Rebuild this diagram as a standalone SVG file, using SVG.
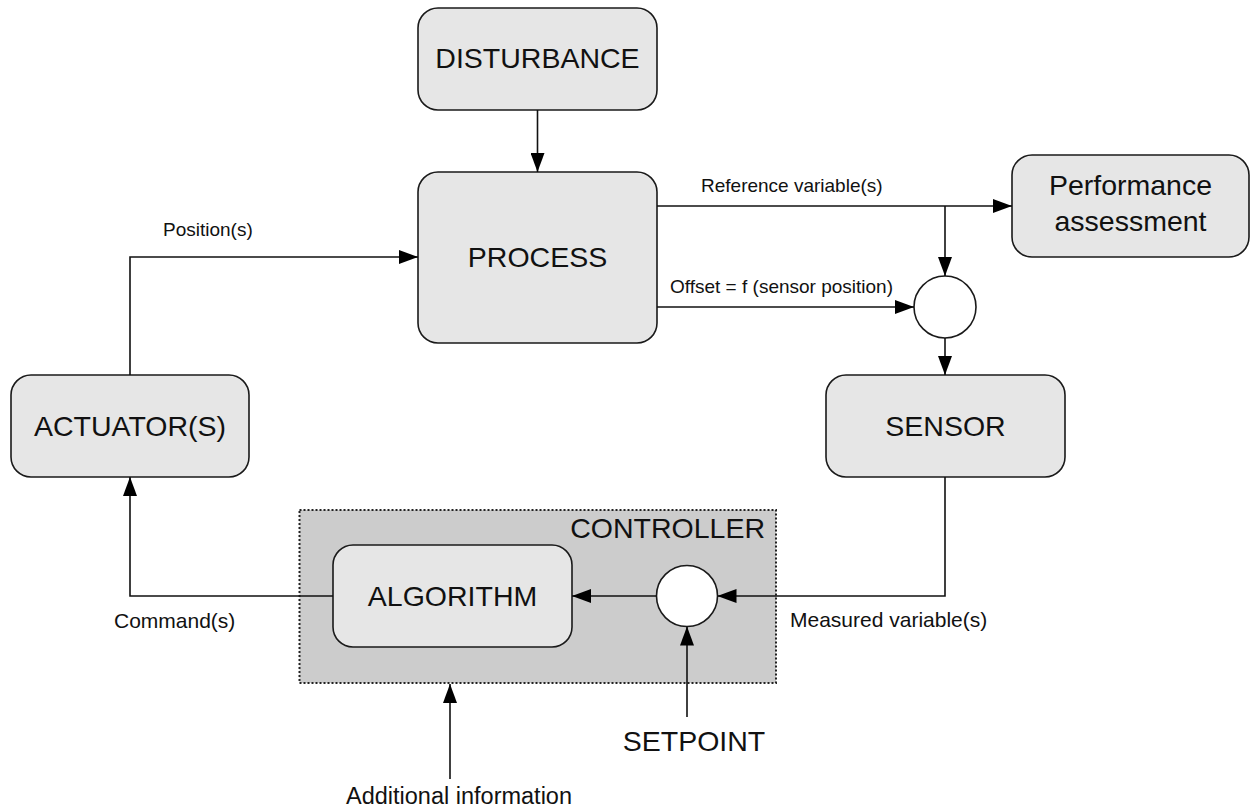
<svg xmlns="http://www.w3.org/2000/svg" width="1251" height="810" viewBox="0 0 1251 810">
<style>
text{font-family:"Liberation Sans",Arial,sans-serif;fill:#111}
.box{fill:#e6e6e6;stroke:#1a1a1a;stroke-width:1.6}
.big{font-size:28.5px;text-anchor:middle}
.lbl{font-size:19px}
.lbl2{font-size:21px}
.conn path{fill:none;stroke:#111;stroke-width:1.6}
.circ{fill:#fff;stroke:#1a1a1a;stroke-width:1.6}
</style>
<defs>
<marker id="arr" viewBox="0 0 19 14" refX="19" refY="7" markerWidth="19" markerHeight="14" markerUnits="userSpaceOnUse" orient="auto">
<path d="M0,0 L19,7 L0,14 z" fill="#000"/>
</marker>
</defs>
<g id="controller">
<rect x="299.5" y="510" width="476.5" height="173" fill="#cccccc" stroke="#222" stroke-width="2" stroke-dasharray="2,2"/>
<text x="765" y="538" font-size="28.5" text-anchor="end">CONTROLLER</text>
</g>
<g id="disturbance">
<rect class="box" x="418" y="8" width="239" height="102" rx="20"/>
<text class="big" x="537.5" y="68">DISTURBANCE</text>
</g>
<g id="process">
<rect class="box" x="418" y="172" width="239" height="171" rx="20"/>
<text class="big" x="537.5" y="267">PROCESS</text>
</g>
<g id="performance">
<rect class="box" x="1012" y="155" width="237" height="102" rx="20"/>
<text class="big" x="1130.5" y="195">Performance</text>
<text class="big" x="1130.5" y="230.5">assessment</text>
</g>
<g id="sum1">
<circle class="circ" cx="945" cy="307" r="31"/>
</g>
<g id="sensor">
<rect class="box" x="826" y="375" width="239" height="102" rx="20"/>
<text class="big" x="945.5" y="436">SENSOR</text>
</g>
<g id="actuator">
<rect class="box" x="11" y="375" width="238" height="102" rx="20"/>
<text class="big" x="130" y="436">ACTUATOR(S)</text>
</g>
<g id="algorithm">
<rect class="box" x="333" y="545" width="239" height="102" rx="20"/>
<text class="big" x="452.5" y="606">ALGORITHM</text>
</g>
<g id="sum2">
<circle class="circ" cx="687" cy="596" r="30.5"/>
</g>
<g id="connectors" class="conn">
<path d="M537.5,110 V172" marker-end="url(#arr)"/>
<path d="M130,375 V257 H418" marker-end="url(#arr)"/>
<path d="M657,206 H1012" marker-end="url(#arr)"/>
<path d="M945,206 V276" marker-end="url(#arr)"/>
<path d="M657,307 H914" marker-end="url(#arr)"/>
<path d="M945,338 V375" marker-end="url(#arr)"/>
<path d="M945,477 V596 H717.5" marker-end="url(#arr)"/>
<path d="M656.5,596 H572" marker-end="url(#arr)"/>
<path d="M333,596 H130 V477" marker-end="url(#arr)"/>
<path d="M687,717 V626.5" marker-end="url(#arr)"/>
<path d="M450,779 V684" marker-end="url(#arr)"/>
</g>
<g id="labels">
<text class="lbl" x="163" y="236">Position(s)</text>
<text class="lbl" x="701" y="192">Reference variable(s)</text>
<text class="lbl" x="670" y="293">Offset = f (sensor position)</text>
<text class="lbl2" x="790" y="627">Measured variable(s)</text>
<text class="lbl2" x="114" y="628">Command(s)</text>
<text x="694" y="751" font-size="28.5" text-anchor="middle">SETPOINT</text>
<text x="459" y="804" font-size="23.5" text-anchor="middle">Additional information</text>
</g>
</svg>
